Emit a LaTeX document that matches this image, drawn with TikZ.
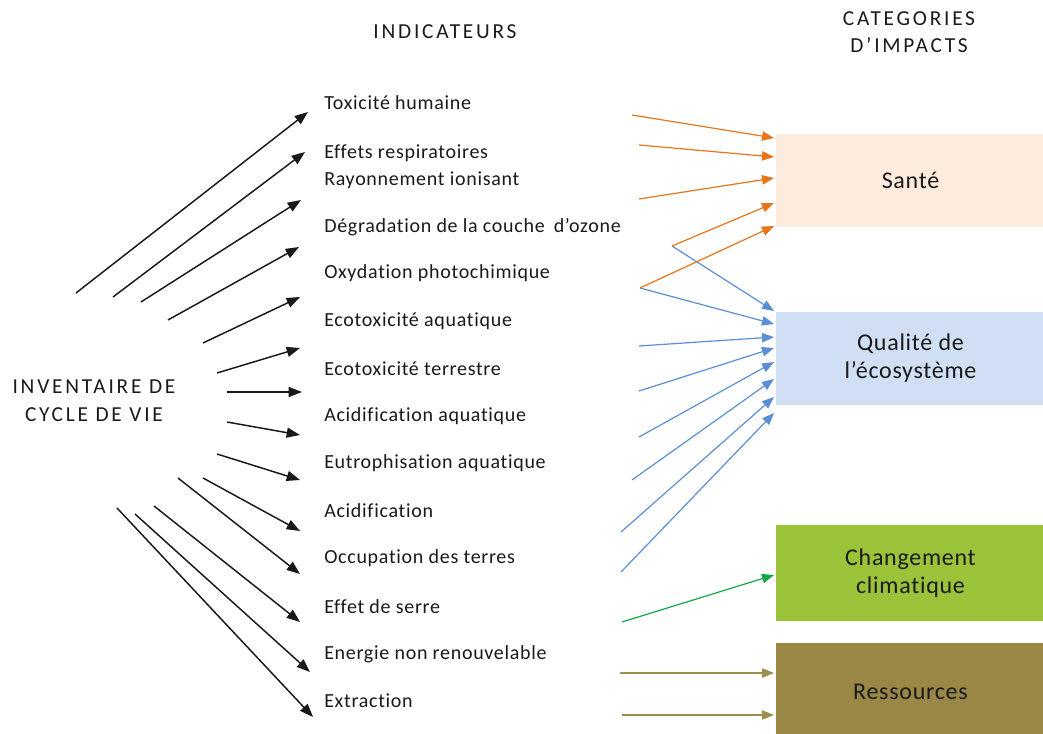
\documentclass[tikz,border=0pt]{standalone}
\usepackage{fontspec}
\setmainfont{Carlito}[Ligatures=NoCommon]
\newfontfamily\lblfont{Carlito}[Ligatures=NoCommon, LetterSpace=3.5]
\newfontfamily\hdrfont{Carlito}[Ligatures=NoCommon, LetterSpace=13]
\newfontfamily\catfont{Carlito}[Ligatures=NoCommon, LetterSpace=3]
\usetikzlibrary{arrows.meta}
\definecolor{cOrange}{HTML}{E8751A}
\definecolor{cBlue}{HTML}{5A8FD6}
\definecolor{cGreen}{HTML}{12A84A}
\definecolor{cOlive}{HTML}{9C8F4E}
\definecolor{fSante}{HTML}{FDEBDD}
\definecolor{fQual}{HTML}{D0DFF3}
\definecolor{fClim}{HTML}{9AC33A}
\definecolor{fRess}{HTML}{9A8745}
\definecolor{txt}{HTML}{1A1A1A}
\tikzset{
  lbl/.style={anchor=west, inner sep=0pt, font=\lblfont\fontsize{15}{17}\selectfont, text=txt},
  hdr/.style={align=center, inner sep=0pt, font=\hdrfont\fontsize{16}{20}\selectfont, text=txt},
  cat/.style={minimum width=202pt, minimum height=70pt, inner sep=0pt, align=center,
              font=\catfont\fontsize{18}{21}\selectfont, text=txt},
  blk/.style={draw=black!90, line width=1.1pt, -{Triangle[length=10pt,width=7.5pt]}},
  org/.style={draw=cOrange, line width=0.9pt, -{Triangle[length=9pt,width=7pt]}},
  blu/.style={draw=cBlue, line width=0.9pt, -{Triangle[length=9pt,width=7pt]}},
  grn/.style={draw=cGreen, line width=0.9pt, -{Triangle[length=9pt,width=7pt]}},
  olv/.style={draw=cOlive, line width=0.9pt, -{Triangle[length=9pt,width=7pt]}},
}
\begin{document}
\begin{tikzpicture}[x=0.75pt,y=-0.75pt]
\useasboundingbox (0,0) rectangle (1043,734);
\fill[white] (0,0) rectangle (1043,734);

% headers
\node[hdr] (hind) at (445,32) {INDICATEURS};
\node[hdr] (hcat) at (909,32) {CATEGORIES\\D’IMPACTS};
\node[hdr, font=\hdrfont\fontsize{16}{21}\selectfont] (inv) at (94,401) {INVENTAIRE DE\\CYCLE DE VIE};

% category boxes
\node[cat, fill=fSante] (sante) at (910.5,180.5) {Santé};
\node[cat, fill=fQual] (qual) at (910.5,358.5) {Qualité de\\l’écosystème};
\node[cat, fill=fClim, minimum height=72pt] (clim) at (910.5,573) {Changement\\climatique};
\node[cat, fill=fRess, minimum height=73pt] (ress) at (910.5,691.5) {Ressources};

% indicator labels
\node[lbl] (i1)  at (324,103) {Toxicité humaine};
\node[lbl] (i2)  at (324,153) {Effets respiratoires};
\node[lbl] (i3)  at (324,180) {Rayonnement ionisant};
\node[lbl] (i4)  at (324,227) {Dégradation de la couche\hspace{0.45em}d’ozone};
\node[lbl] (i5)  at (324,273) {Oxydation photochimique};
\node[lbl] (i6)  at (324,321) {Ecotoxicité aquatique};
\node[lbl] (i7)  at (324,369) {Ecotoxicité terrestre};
\node[lbl] (i8)  at (324,416) {Acidification aquatique};
\node[lbl] (i9)  at (324,463) {Eutrophisation aquatique};
\node[lbl] (i10) at (324,511) {Acidification};
\node[lbl] (i11) at (324,558) {Occupation des terres};
\node[lbl] (i12) at (324,607) {Effet de serre};
\node[lbl] (i13) at (324,654) {Energie non renouvelable};
\node[lbl] (i14) at (324,701) {Extraction};

% black arrows: start and end coordinates
\coordinate (s1) at (76,293);   \coordinate (e1) at (308,112);
\coordinate (s2) at (113,297);  \coordinate (e2) at (305,152);
\coordinate (s3) at (141,302);  \coordinate (e3) at (301,200);
\coordinate (s4) at (168,320);  \coordinate (e4) at (299,247);
\coordinate (s5) at (203,343);  \coordinate (e5) at (300,297);
\coordinate (s6) at (217,373);  \coordinate (e6) at (300,348);
\coordinate (s7) at (227,392);  \coordinate (e7) at (302,392);
\coordinate (s8) at (227,422);  \coordinate (e8) at (300,435);
\coordinate (s9) at (217,454);  \coordinate (e9) at (300,480);
\coordinate (s10) at (203,478); \coordinate (e10) at (300,531);
\coordinate (s11) at (178,478); \coordinate (e11) at (300,574);
\coordinate (s12) at (154,506); \coordinate (e12) at (300,622);
\coordinate (s13) at (135,514); \coordinate (e13) at (310,672);
\coordinate (s14) at (117,508); \coordinate (e14) at (313,717);
\foreach \k in {1,...,14} { \draw[blk] (s\k) -- (e\k); }

% sources on the right side
\coordinate (r1) at (632,115);
\coordinate (r2) at (639,145);
\coordinate (r3) at (639,199);
\coordinate (r4) at (672,246);
\coordinate (r5) at (640,288);
\coordinate (r6) at (639,346);
\coordinate (r7) at (639,391);
\coordinate (r8) at (639,437);
\coordinate (r9) at (632,480);
\coordinate (r10) at (621,532);
\coordinate (r11) at (621,572);
\coordinate (r12) at (622,622);
\coordinate (r13) at (620,673);
\coordinate (r14) at (622,715);

% targets at the boxes' left side
\coordinate (t1) at (774,138);
\coordinate (t2) at (774,157);
\coordinate (t3) at (774,178);
\coordinate (t4) at (774,203);
\coordinate (t5) at (774,226);
\coordinate (q1) at (774,311);
\coordinate (q2) at (774,324);
\coordinate (q3) at (774,337);
\coordinate (q4) at (774,348);
\coordinate (q5) at (774,362);
\coordinate (q6) at (774,379);
\coordinate (q7) at (774,397);
\coordinate (q8) at (774,413);
\coordinate (c1) at (774,575);
\coordinate (x1) at (774,673);
\coordinate (x2) at (774,715);

% blue arrows (drawn first, orange on top)
\draw[blu] (r4) -- (q1);
\draw[blu] (r5) -- (q2);
\draw[blu] (r6) -- (q3);
\draw[blu] (r7) -- (q4);
\draw[blu] (r8) -- (q5);
\draw[blu] (r9) -- (q6);
\draw[blu] (r10) -- (q7);
\draw[blu] (r11) -- (q8);

% orange arrows
\draw[org] (r1) -- (t1);
\draw[org] (r2) -- (t2);
\draw[org] (r3) -- (t3);
\draw[org] (r4) -- (t4);
\draw[org] (r5) -- (t5);

% green and olive arrows
\draw[grn] (r12) -- (c1);
\draw[olv] (r13) -- (x1);
\draw[olv] (r14) -- (x2);
\end{tikzpicture}
\end{document}
